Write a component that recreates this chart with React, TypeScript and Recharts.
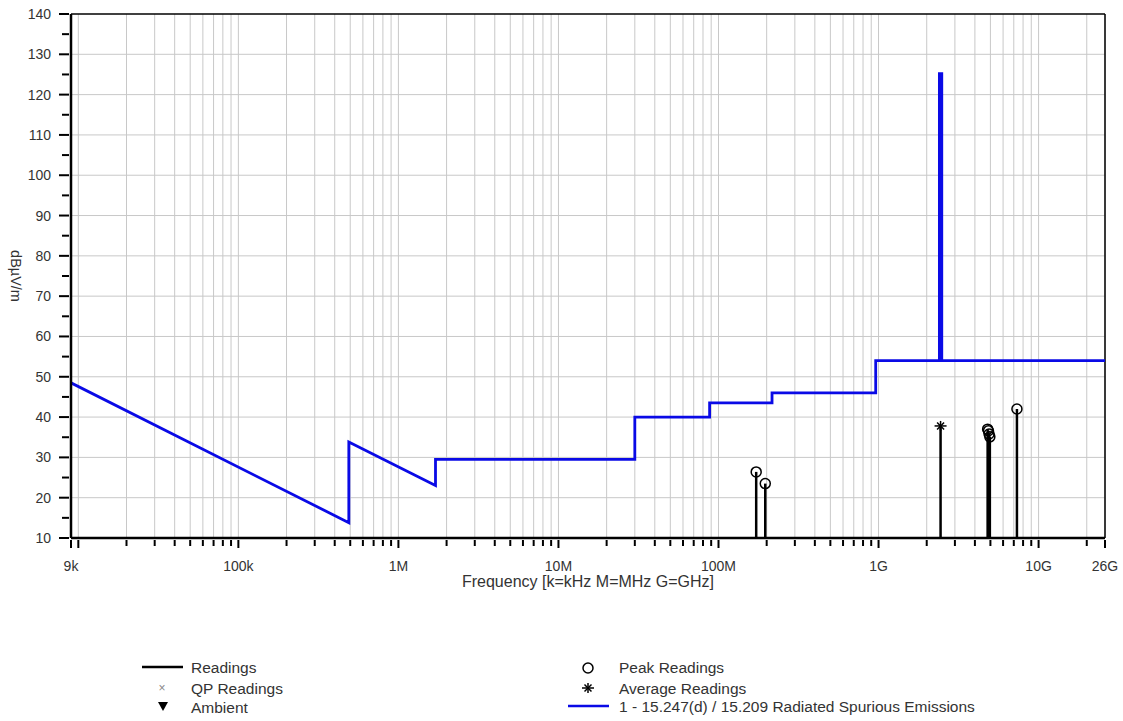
import React from "react";
import { CartesianGrid, ComposedChart, Line, ReferenceLine, Scatter, XAxis, YAxis } from "recharts";

const FONT = '"Liberation Sans", Arial, sans-serif';
const TEXT = "#333";
const GRID = "#c8c8c8";
const LIMIT = "#0a0ae6";

// 15.247(d) / 15.209 limit, vertices in Hz and dBµV/m
const limitFreqs = [
  9e3, 490e3, 490e3, 1.705e6, 1.705e6, 30e6, 30e6, 88e6, 88e6, 216e6, 216e6, 960e6, 960e6, 2400e6, 2400e6,
  2483.5e6, 2483.5e6, 26e9,
];
const limitLevels = [48.5, 13.8, 33.8, 23.0, 29.5, 29.5, 40, 40, 43.5, 43.5, 46, 46, 54, 54, 125.2, 125.2, 54, 54];

// peak readings
const peakFreqs = [172e6, 196e6, 4804e6, 4860e6, 4904e6, 4960e6, 7323e6];
const peakLevels = [26.4, 23.5, 37.0, 36.6, 35.8, 35.1, 42.0];

// average readings
const avgFreqs = [2441e6];
const avgLevels = [37.8];

// labelled decades on the frequency axis
const xLabelFreqs = [9e3, 1e5, 1e6, 1e7, 1e8, 1e9, 1e10, 26e9];
const xTickLabels = ["9k", "100k", "1M", "10M", "100M", "1G", "10G", "26G"];
const decades = [1e4, 1e5, 1e6, 1e7, 1e8, 1e9, 1e10];
const multipliers = [1, 2, 3, 4, 5, 6, 7, 8, 9];

const yMin = 10;
const yMax = 140;
const yLabelLevels = [10, 20, 30, 40, 50, 60, 70, 80, 90, 100, 110, 120, 130, 140];
const yMinorLevels = [15, 25, 35, 45, 55, 65, 75, 85, 95, 105, 115, 125, 135];

const xTicks = [9e3, ...decades.flatMap((d) => multipliers.map((m) => m * d)).filter((f) => f < 26e9), 26e9];
const yTicks = [...yLabelLevels, ...yMinorLevels].sort((a, b) => a - b);
const hGrid = yLabelLevels.filter((v) => v > yMin && v < yMax);

const limitData = limitFreqs.map((f, i) => ({ f, v: limitLevels[i] }));
const peakData = peakFreqs.map((f, i) => ({ f, v: peakLevels[i] }));
const avgData = avgFreqs.map((f, i) => ({ f, v: avgLevels[i] }));
const readings = [...peakData, ...avgData];

const sameFreq = (a: number, b: number) => Math.abs(a - b) / b < 1e-6;

function XTick(props: any) {
  const { x, y, payload } = props;
  const f = payload.value as number;
  const idx = xLabelFreqs.findIndex((v) => sameFreq(f, v));
  const major = idx >= 0 || decades.some((d) => sameFreq(f, d));
  return (
    <g>
      <line x1={x} x2={x} y1={y} y2={y + (major ? 8 : 6)} stroke="#000" strokeWidth={2} />
      {idx >= 0 && (
        <text x={x} y={y + 31} textAnchor="middle" fontSize={14} fontFamily={FONT} fill={TEXT}>
          {xTickLabels[idx]}
        </text>
      )}
    </g>
  );
}

function YTick(props: any) {
  const { x, y, payload } = props;
  const v = payload.value as number;
  const major = v % 10 === 0;
  return (
    <g>
      <line x1={x - (major ? 10 : 7)} x2={x} y1={y} y2={y} stroke="#000" strokeWidth={2} />
      {major && (
        <text x={x - 18} y={y + 5} textAnchor="end" fontSize={14} fontFamily={FONT} fill={TEXT}>
          {v}
        </text>
      )}
    </g>
  );
}

function PeakMark(props: any) {
  const { cx, cy } = props;
  return <circle cx={cx} cy={cy} r={5} fill="none" stroke="#000" strokeWidth={1.5} />;
}

function AvgMark(props: any) {
  const { cx, cy } = props;
  const r = 5;
  const d = r * 0.7;
  return (
    <g stroke="#000" strokeWidth={1.5}>
      <line x1={cx - r - 1} x2={cx + r + 1} y1={cy} y2={cy} />
      <line x1={cx} x2={cx} y1={cy - r} y2={cy + r} />
      <line x1={cx - d} x2={cx + d} y1={cy - d} y2={cy + d} />
      <line x1={cx - d} x2={cx + d} y1={cy + d} y2={cy - d} />
    </g>
  );
}

function Legend() {
  const t = { fontSize: 15.5, fontFamily: FONT, fill: TEXT, dominantBaseline: "central" as const };
  return (
    <svg width={1123} height={721} style={{ position: "absolute", left: 0, top: 0, pointerEvents: "none" }}>
      <line x1={142} x2={183} y1={667} y2={667} stroke="#000" strokeWidth={2.5} />
      <text x={191} y={667} {...t}>Readings</text>
      <text x={162} y={688} textAnchor="middle" fontSize={12} fontFamily={FONT} fill="#888" dominantBaseline="central">
        ×
      </text>
      <text x={191} y={688} {...t}>QP Readings</text>
      <path d="M158,702 L168,702 L163,711 Z" fill="#000" />
      <text x={191} y={707} {...t}>Ambient</text>

      <PeakMark cx={588} cy={668} />
      <text x={619} y={667} {...t}>Peak Readings</text>
      <AvgMark cx={588} cy={688} />
      <text x={619} y={688} {...t}>Average Readings</text>
      <line x1={568} x2={609} y1={706} y2={706} stroke={LIMIT} strokeWidth={2.5} />
      <text x={619} y={706} {...t}>1 - 15.247(d) / 15.209 Radiated Spurious Emissions</text>
    </svg>
  );
}

export default function App() {
  return (
    <div style={{ position: "absolute", left: 0, top: 0, width: 1123, height: 721, background: "#fff" }}>
      <ComposedChart
        width={1123}
        height={721}
        margin={{ top: 14, right: 18, left: 11, bottom: 133 }}
        style={{ fontFamily: FONT }}
      >
        <CartesianGrid horizontal={false} stroke={GRID} strokeWidth={1} />
        {hGrid.map((v) => (
          <ReferenceLine key={`h${v}`} y={v} stroke={GRID} strokeWidth={1} />
        ))}
        <ReferenceLine y={yMax} stroke="#000" strokeWidth={1.5} />
        <ReferenceLine x={26e9} stroke="#000" strokeWidth={1.5} />
        <XAxis
          type="number"
          dataKey="f"
          scale="log"
          domain={[9e3, 26e9]}
          allowDataOverflow
          ticks={xTicks}
          interval={0}
          tick={<XTick />}
          tickLine={false}
          tickSize={0}
          height={50}
          axisLine={{ stroke: "#000", strokeWidth: 2.5 }}
          label={{
            value: "Frequency [k=kHz M=MHz G=GHz]",
            position: "insideBottom",
            offset: 1,
            style: { fontSize: 16, fill: TEXT, fontFamily: FONT },
          }}
        />
        <YAxis
          type="number"
          domain={[yMin, yMax]}
          allowDataOverflow
          ticks={yTicks}
          interval={0}
          tick={<YTick />}
          tickLine={false}
          tickSize={0}
          width={60}
          axisLine={{ stroke: "#000", strokeWidth: 2.5 }}
          label={{
            value: "dBµV/m",
            angle: 90,
            position: "insideLeft",
            offset: 5,
            style: { fontSize: 14.5, fill: TEXT, fontFamily: FONT, textAnchor: "middle" },
          }}
        />
        <Line
          data={limitData}
          dataKey="v"
          type="linear"
          stroke={LIMIT}
          strokeWidth={2.8}
          dot={false}
          activeDot={false}
          isAnimationActive={false}
        />
        {readings.map((r, i) => (
          <ReferenceLine
            key={`s${i}`}
            segment={[
              { x: r.f, y: yMin },
              { x: r.f, y: r.v },
            ]}
            stroke="#000"
            strokeWidth={2.5}
          />
        ))}
        <Scatter data={peakData} dataKey="v" shape={<PeakMark />} isAnimationActive={false} />
        <Scatter data={avgData} dataKey="v" shape={<AvgMark />} isAnimationActive={false} />
      </ComposedChart>
      <Legend />
    </div>
  );
}
